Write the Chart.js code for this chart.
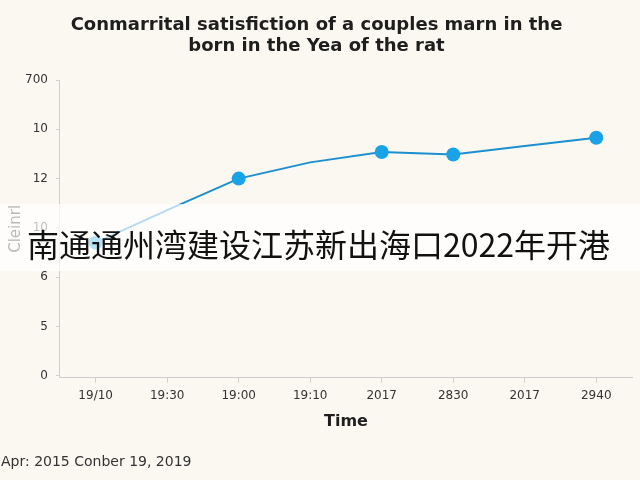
<!DOCTYPE html>
<html>
<head>
<meta charset="utf-8">
<script src="https://cdn.jsdelivr.net/npm/chart.js@4"></script>
<style>
  html, body { margin: 0; padding: 0; background: #fbf8f2; }
  #wrap { position: relative; width: 640px; height: 480px; }
  #banner {
    position: absolute; left: 0; top: 204px; width: 640px; height: 67px;
    background: rgba(255,255,255,0.68);
    font-family: "Noto Sans CJK SC", sans-serif; font-size: 32px; color: #111;
    line-height: 78px; white-space: nowrap; box-sizing: border-box; padding-left: 27px;
  }
</style>
</head>
<body>
<div id="wrap">
  <canvas id="c" width="640" height="480"></canvas>
  <div id="banner">南通通州湾建设江苏新出海口2022年开港</div>
</div>
<script>
const categories = ['19/10', '19:30', '19:00', '19:10', '2017', '2830', '2017', '2940'];
const satisfaction = [2.70, 3.36, 4.00, 4.33, 4.54, 4.49, 4.66, 4.83];
const yTickPositions = [0, 1, 2, 3, 4, 5, 6];
const yTickLabels = ['0', '5', '6', '10', '12', '10', '700'];
const titleLines = ['Conmarrital satisfiction of a couples marn in the', 'born in the Yea of the rat'];
const footerText = 'Apr: 2015 Conber 19, 2019';

const bgPlugin = {
  id: 'bg',
  beforeDraw(chart) {
    const ctx = chart.ctx;
    ctx.save();
    ctx.fillStyle = '#fbf8f2';
    ctx.fillRect(0, 0, chart.width, chart.height);
    ctx.restore();
  }
};

new Chart(document.getElementById('c'), {
  type: 'line',
  data: {
    labels: categories,
    datasets: [{
      data: satisfaction,
      borderColor: '#1b8fcf',
      backgroundColor: '#1aa2e6',
      borderWidth: 2,
      pointRadius: [7, 0, 7, 0, 7, 7, 0, 7],
      pointHoverRadius: 7,
      pointBorderWidth: 0,
      tension: 0
    }]
  },
  options: {
    responsive: false,
    animation: false,
    devicePixelRatio: 1,
    layout: { padding: { left: 1, right: 8, top: 4, bottom: 4 } },
    plugins: {
      legend: { display: false },
      tooltip: { enabled: false },
      title: {
        display: true,
        text: titleLines,
        color: '#1e1e1e',
        font: { family: 'DejaVu Sans', size: 18, weight: 'bold', lineHeight: 1.17 },
        padding: { top: 11, bottom: 23 }
      },
      subtitle: {
        display: true,
        position: 'bottom',
        align: 'start',
        text: footerText,
        color: '#333',
        font: { family: 'DejaVu Sans', size: 14, lineHeight: 1.2 },
        padding: { top: 23, bottom: 5 }
      }
    },
    scales: {
      x: {
        offset: true,
        border: { color: '#cfcfcf', width: 1 },
        grid: { display: true, drawOnChartArea: false, tickLength: 5, color: '#cfcfcf' },
        ticks: { color: '#333', font: { family: 'DejaVu Sans', size: 12, lineHeight: 1.2 }, padding: 6, maxRotation: 0, autoSkip: false },
        title: { display: true, text: 'Time', color: '#1e1e1e', font: { family: 'DejaVu Sans', size: 16, weight: 'bold', lineHeight: 1.2 }, padding: { top: 3, bottom: 0 } }
      },
      y: {
        min: -0.04,
        max: 6,
        afterBuildTicks(axis) {
          axis.ticks = yTickPositions.map(v => ({ value: v }));
        },
        border: { color: '#cfcfcf', width: 1 },
        grid: { display: true, drawOnChartArea: false, tickLength: 4, color: '#cfcfcf' },
        ticks: {
          color: '#333',
          font: { family: 'DejaVu Sans', size: 12 },
          padding: 8,
          callback: (v, i) => yTickLabels[i]
        },
        title: { display: true, text: 'Cleinrl', color: '#222', font: { family: 'DejaVu Sans', size: 15, lineHeight: 1.2 }, padding: { top: 6, bottom: -8 } }
      }
    }
  },
  plugins: [bgPlugin]
});
</script>
</body>
</html>
